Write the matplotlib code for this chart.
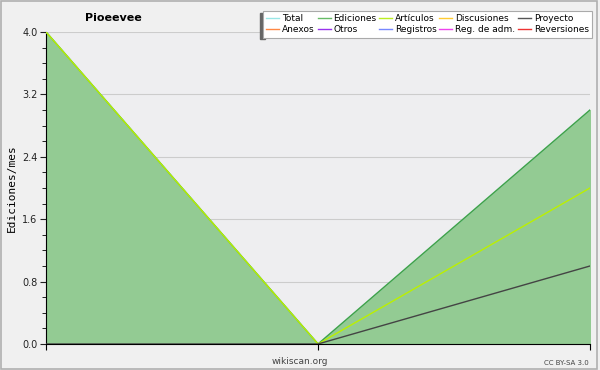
import numpy as np
import matplotlib.pyplot as plt
from matplotlib.lines import Line2D
from matplotlib.ticker import MultipleLocator

months = [0, 1, 2]
total = [4, 0, 3]
ediciones = [4, 0, 3]
articulos = [4, 0, 2]
proyecto = [0, 0, 1]

legend_names = ['Total', 'Ediciones', 'Artículos', 'Discusiones', 'Proyecto',
                'Anexos', 'Otros', 'Registros', 'Reg. de adm.', 'Reversiones']
legend_colors = ['#99e6e6', '#66bb66', '#bbee22', '#ffcc33', '#555555',
                 '#ff8844', '#9933ee', '#7788ff', '#ee44ee', '#ee3333']

fig = plt.figure(figsize=(6, 3.7), dpi=100, facecolor='#f0f0f0')
fig.patches.append(plt.Rectangle((0.002, 0.004), 0.993, 0.993, transform=fig.transFigure,
                                 fill=False, edgecolor='#b0b0b0', lw=1.2))
# legend shadow on the left
fig.patches.append(plt.Rectangle((260 / 600, 1 - 39 / 370), 5 / 600, 26 / 370,
                                 transform=fig.transFigure, color='#666666', zorder=0))
ax = fig.add_axes([0.0767, 0.0703, 0.9066, 0.8432])
ax.set_facecolor('#eeeef0')

ax.fill_between(months, ediciones, color='#93cb93', zorder=2)
ax.plot(months, total, color='#99e6e6', lw=1, zorder=3)
ax.plot(months, ediciones, color='#44a044', lw=1, zorder=4)
ax.plot(months, articulos, color='#bbf000', lw=1, zorder=5)
ax.plot(months, proyecto, color='#444444', lw=1, zorder=6)

ax.set_xlim(0, 2)
ax.set_ylim(0, 4)
ax.yaxis.set_minor_locator(MultipleLocator(0.2))
ax.set_yticks(np.arange(0, 4.01, 0.8))
ax.set_yticklabels(['%.1f' % v for v in np.arange(0, 4.01, 0.8)])
ax.set_xticks(months)
ax.set_xticklabels([])
ax.tick_params(axis='y', labelsize=7, colors='#222222', length=4, pad=2)
ax.tick_params(axis='y', which='minor', length=3)
ax.tick_params(axis='x', length=4)
ax.grid(axis='y', color='#cccccc', lw=0.8, zorder=1)
for s in ['top', 'right']:
    ax.spines[s].set_visible(False)
ax.set_ylabel('Ediciones/mes', fontsize=8, family='DejaVu Sans Mono')

fig.text(85 / 600, 1 - 18 / 370, 'Pioeevee', fontsize=8, fontweight='bold', ha='left', va='center')
fig.text(300 / 600, 1 - 361 / 370, 'wikiscan.org', fontsize=6.5, color='#444444', ha='center', va='center')
fig.text(0.982, 1 - 363 / 370, 'CC BY-SA 3.0', fontsize=5, color='#444444', ha='right', va='center')

handles = [Line2D([], [], color=c, lw=1) for c in legend_colors]
order = [0, 5, 1, 6, 2, 7, 3, 8, 4, 9]
leg = fig.legend([handles[i] for i in order], [legend_names[i] for i in order],
                 ncol=5, loc='upper right', bbox_to_anchor=(592 / 600, 1 - 11 / 370),
                 fontsize=6.5, frameon=True, fancybox=False, handlelength=1.45,
                 handletextpad=0.3, columnspacing=0.3, labelspacing=0.25,
                 borderpad=0.35, borderaxespad=0, edgecolor='#aaaaaa', framealpha=1)
leg.get_frame().set_linewidth(0.8)

fig.savefig('out.png', dpi=100, facecolor=fig.get_facecolor())
